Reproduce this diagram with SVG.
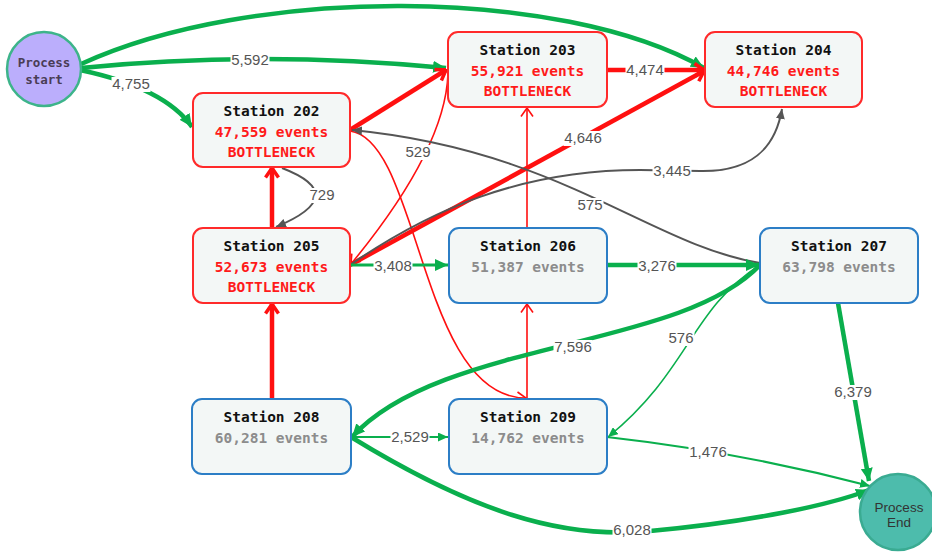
<svg xmlns="http://www.w3.org/2000/svg" width="932" height="557" viewBox="0 0 932 557">
  <style>
    .box { fill: #f3f7f6; stroke-width: 2; }
    .bn { stroke: #ff2a2a; }
    .ok { stroke: #2c7ec6; }
    .t { font-family: "DejaVu Sans Mono", "Liberation Mono", monospace; font-weight: bold; font-size: 14.5px; text-anchor: middle; }
    .title { fill: #111; }
    .evr { fill: #ff1a1a; }
    .evg { fill: #8c8c8c; }
    .e { fill: none; stroke-linecap: butt; }
    .g { stroke: #0aaf4d; }
    .r { stroke: #ff1010; }
    .k { stroke: #555; stroke-width: 2; }
    .w4 { stroke-width: 4.5; }
    .w3 { stroke-width: 3; }
    .w2 { stroke-width: 2; }
    .w1 { stroke-width: 1.6; }
    .bg { fill: #fff; }
    .lbl { font-family: "Liberation Sans", Arial, sans-serif; font-size: 15px; fill: #555; text-anchor: middle; }
  </style>
  <defs>
    <marker id="mg" viewBox="0 0 13 12" refX="13" refY="6" markerWidth="13" markerHeight="12" markerUnits="userSpaceOnUse" orient="auto">
      <path d="M0,0 L13,6 L0,12 z" fill="#0aaf4d"/>
    </marker>
    <marker id="mgs" viewBox="0 0 10 9" refX="10" refY="4.5" markerWidth="10" markerHeight="9" markerUnits="userSpaceOnUse" orient="auto">
      <path d="M0,0 L10,4.5 L0,9 z" fill="#0aaf4d"/>
    </marker>
    <marker id="mk" viewBox="0 0 10 9" refX="10" refY="4.5" markerWidth="10" markerHeight="9" markerUnits="userSpaceOnUse" orient="auto">
      <path d="M0,0 L10,4.5 L0,9 z" fill="#555"/>
    </marker>
    <marker id="mr" viewBox="0 0 12 16" refX="11" refY="8" markerWidth="12" markerHeight="16" markerUnits="userSpaceOnUse" orient="auto">
      <path d="M1.5,1.5 L11,8 L1.5,14.5" fill="none" stroke="#ff1010" stroke-width="3.5" stroke-linejoin="miter"/>
    </marker>
    <marker id="mrs" viewBox="0 0 10 14" refX="9.5" refY="7" markerWidth="10" markerHeight="14" markerUnits="userSpaceOnUse" orient="auto">
      <path d="M1,1 L9.5,7 L1,13" fill="none" stroke="#ff1010" stroke-width="1.6"/>
    </marker>
  </defs>

  <rect width="932" height="557" fill="#fff"/>

  <g id="connectors">
    <!-- from Process start -->
    <path class="e g w4" d="M81 64 C250 -14, 560 -14, 704 68" marker-end="url(#mg)"/>
    <path class="e g w4" d="M81 68 Q260 50 446 68" marker-end="url(#mg)"/>
    <path class="e g w4" d="M80 70 Q165 88 192 127" marker-end="url(#mg)"/>
    <!-- bottleneck flows -->
    <path class="e r w4" d="M607 70 L704 70" marker-end="url(#mr)"/>
    <path class="e r w4" d="M350 130 L446 70" marker-end="url(#mr)"/>
    <path class="e r w4" d="M350 265 L704 71" marker-end="url(#mr)"/>
    <path class="e r w1" d="M448 74 Q445 150 351 264" marker-end="url(#mrs)"/>
    <path class="e r w1" d="M350 131 C420 140, 420 398, 526 398" marker-end="url(#mrs)"/>
    <path class="e r w1" d="M527 228 L527 108" marker-end="url(#mrs)"/>
    <path class="e r w1" d="M527 399 L527 304" marker-end="url(#mrs)"/>
    <path class="e r w4" d="M272 399 L272 304" marker-end="url(#mr)"/>
    <path class="e r w4" d="M272 228 L272 168" marker-end="url(#mr)"/>
    <!-- grey flows -->
    <path class="e k" d="M282 168 Q352 195 276 227" marker-end="url(#mk)"/>
    <path class="e k" d="M350 265 C430 210, 520 170, 640 170 L700 171 C750 172, 775 150, 782 109" marker-end="url(#mk)"/>
    <path class="e k" d="M760 263 C650 245, 560 150, 352 130" marker-end="url(#mk)"/>
    <!-- green flows -->
    <path class="e g w3" d="M351 265 L448 265" marker-end="url(#mg)"/>
    <path class="e g w4" d="M607 265 L759 265" marker-end="url(#mg)"/>
    <path class="e g w4" d="M760 265 C680 350, 440 340, 352 437" marker-end="url(#mg)"/>
    <path class="e g w1" d="M760 265 C690 310, 690 370, 608 437" marker-end="url(#mgs)"/>
    <path class="e g w2" d="M351 437 L448 437" marker-end="url(#mgs)"/>
    <path class="e g w2" d="M607 437 Q740 452 870 486" marker-end="url(#mgs)"/>
    <path class="e g w4" d="M351 437 C470 510, 560 540, 650 531 C750 522, 830 505, 869 490" marker-end="url(#mg)"/>
    <path class="e g w4" d="M838 303 L869 481" marker-end="url(#mg)"/>

    <!-- count labels on white plates -->
    <rect class="bg" x="230.5" y="53" width="39" height="15"/><text class="lbl" x="250" y="65">5,592</text>
    <rect class="bg" x="111.5" y="77" width="39" height="15"/><text class="lbl" x="131" y="89">4,755</text>
    <rect class="bg" x="625.5" y="63" width="39" height="15"/><text class="lbl" x="645" y="75">4,474</text>
    <rect class="bg" x="563.5" y="131" width="39" height="15"/><text class="lbl" x="583" y="143">4,646</text>
    <rect class="bg" x="404.5" y="145" width="27" height="15"/><text class="lbl" x="418" y="157">529</text>
    <rect class="bg" x="308.5" y="188" width="27" height="15"/><text class="lbl" x="322" y="200">729</text>
    <rect class="bg" x="652.5" y="164" width="39" height="15"/><text class="lbl" x="672" y="176">3,445</text>
    <rect class="bg" x="576.5" y="198" width="27" height="15"/><text class="lbl" x="590" y="210">575</text>
    <rect class="bg" x="373.5" y="259" width="39" height="15"/><text class="lbl" x="393" y="271">3,408</text>
    <rect class="bg" x="637.5" y="259" width="39" height="15"/><text class="lbl" x="657" y="271">3,276</text>
    <rect class="bg" x="553.5" y="340" width="39" height="15"/><text class="lbl" x="573" y="352">7,596</text>
    <rect class="bg" x="667.5" y="331" width="27" height="15"/><text class="lbl" x="681" y="343">576</text>
    <rect class="bg" x="833.5" y="385" width="39" height="15"/><text class="lbl" x="853" y="397">6,379</text>
    <rect class="bg" x="390.5" y="430" width="39" height="15"/><text class="lbl" x="410" y="442">2,529</text>
    <rect class="bg" x="688.5" y="445" width="39" height="15"/><text class="lbl" x="708" y="457">1,476</text>
    <rect class="bg" x="612.5" y="523" width="39" height="15"/><text class="lbl" x="632" y="535">6,028</text>
  </g>

  <g id="process-start">
    <circle cx="44" cy="69" r="37" fill="#bbaefc" stroke="#3db48a" stroke-width="2.5"/>
    <text class="t" x="44" y="67" style="font-size:12.5px" fill="#4a3d55">Process</text>
    <text class="t" x="44" y="84" style="font-size:12.5px" fill="#4a3d55">start</text>
  </g>

  <g id="station-202">
    <rect class="box bn" x="193" y="93" width="157" height="74" rx="10"/>
    <text class="t title" x="271.5" y="116">Station 202</text>
    <text class="t evr" x="271.5" y="137">47,559 events</text>
    <text class="t evr" x="271.5" y="157">BOTTLENECK</text>
  </g>

  <g id="station-203">
    <rect class="box bn" x="448" y="32" width="159" height="75" rx="10"/>
    <text class="t title" x="527.5" y="55">Station 203</text>
    <text class="t evr" x="527.5" y="76">55,921 events</text>
    <text class="t evr" x="527.5" y="96">BOTTLENECK</text>
  </g>

  <g id="station-204">
    <rect class="box bn" x="705" y="32" width="157" height="75" rx="10"/>
    <text class="t title" x="783.5" y="55">Station 204</text>
    <text class="t evr" x="783.5" y="76">44,746 events</text>
    <text class="t evr" x="783.5" y="96">BOTTLENECK</text>
  </g>

  <g id="station-205">
    <rect class="box bn" x="193" y="228" width="157" height="75" rx="10"/>
    <text class="t title" x="271.5" y="251">Station 205</text>
    <text class="t evr" x="271.5" y="272">52,673 events</text>
    <text class="t evr" x="271.5" y="292">BOTTLENECK</text>
  </g>

  <g id="station-206">
    <rect class="box ok" x="449" y="228" width="158" height="75" rx="10"/>
    <text class="t title" x="528" y="251">Station 206</text>
    <text class="t evg" x="528" y="272">51,387 events</text>
  </g>

  <g id="station-207">
    <rect class="box ok" x="760" y="228" width="158" height="75" rx="10"/>
    <text class="t title" x="839" y="251">Station 207</text>
    <text class="t evg" x="839" y="272">63,798 events</text>
  </g>

  <g id="station-208">
    <rect class="box ok" x="192" y="399" width="159" height="75" rx="10"/>
    <text class="t title" x="271.5" y="422">Station 208</text>
    <text class="t evg" x="271.5" y="443">60,281 events</text>
  </g>

  <g id="station-209">
    <rect class="box ok" x="449" y="399" width="158" height="75" rx="10"/>
    <text class="t title" x="528" y="422">Station 209</text>
    <text class="t evg" x="528" y="443">14,762 events</text>
  </g>

  <g id="process-end">
    <circle cx="898" cy="512" r="38" fill="#4dbcac" stroke="#3aab92" stroke-width="2.5"/>
    <text x="899" y="512" font-family="Liberation Sans, Arial, sans-serif" font-size="13.5" fill="#333" text-anchor="middle">Process</text>
    <text x="899" y="527" font-family="Liberation Sans, Arial, sans-serif" font-size="13.5" fill="#333" text-anchor="middle">End</text>
  </g>
</svg>
